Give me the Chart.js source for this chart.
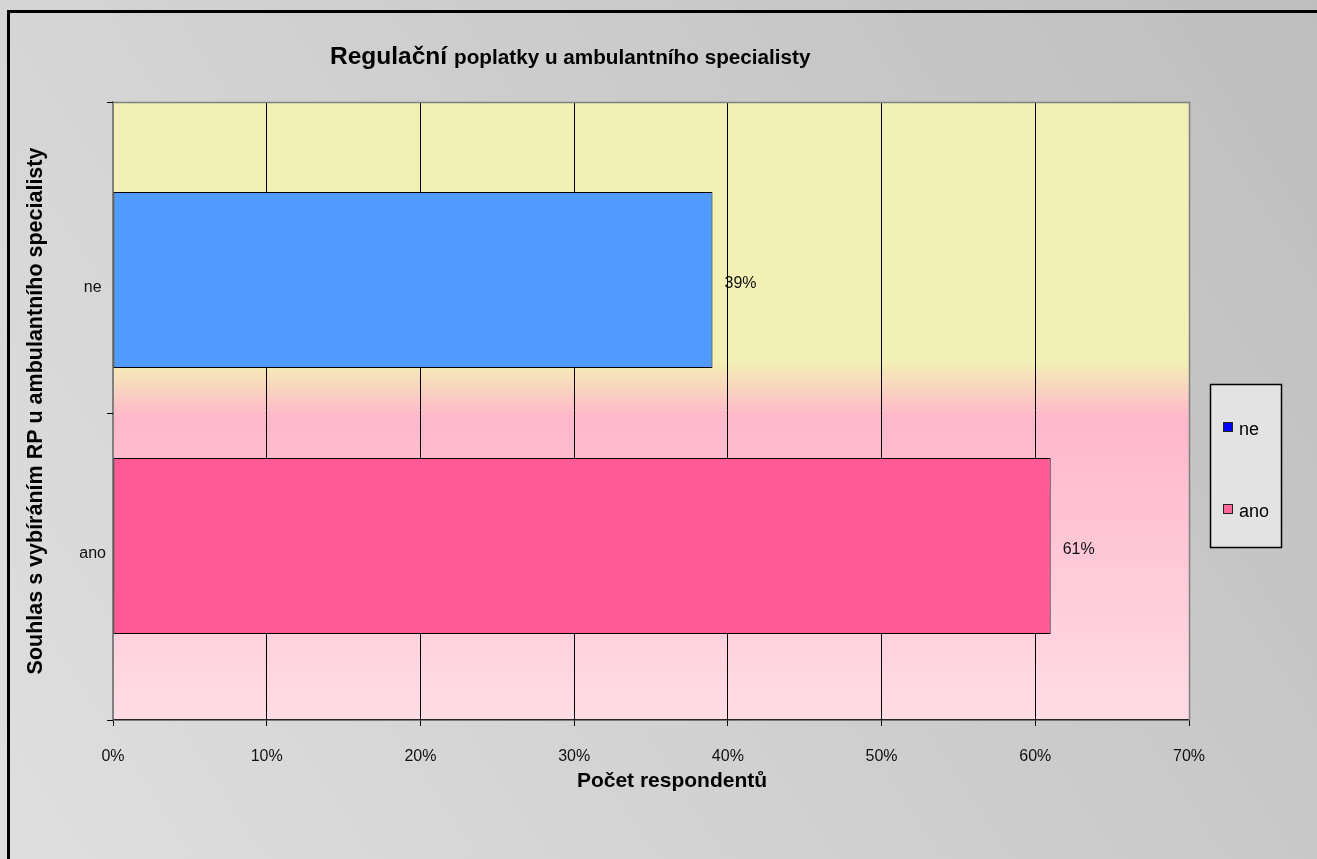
<!DOCTYPE html>
<html>
<head>
<meta charset="utf-8">
<title>Regulační poplatky u ambulantního specialisty</title>
<script src="https://cdn.jsdelivr.net/npm/chart.js@4/dist/chart.umd.min.js"></script>
<style>
  html, body { margin: 0; padding: 0; background: #d2d2d2; }
  canvas { display: block; }
</style>
</head>
<body>
<canvas id="c" width="1317" height="859"></canvas>
<script>
// Answers to the question, top to bottom on the chart
const categories = ['ne', 'ano'];
// Share of respondents, in percent
const shares = [39, 61];
// Value axis range and step, in percent
const axisMax = 70;
const axisStep = 10;

const barColors = ['#4f9bff', '#ff5a96'];
const legendColors = ['#0000ff', '#ff6699'];

const titleMain = 'Regulační';
const titleRest = 'poplatky u ambulantního specialisty';
const xTitle = 'Počet respondentů';
const yTitle = 'Souhlas s vybíráním RP u ambulantního specialisty';

const FONT = '"Liberation Sans", Arial, sans-serif';

// Category axis range (category indices), leaving room above and below the bars
const catMin = -0.669;
const catMax = categories.length - 1 + 0.654;

// Backgrounds: the grey page and the yellow-to-pink plot area
const backgroundPlugin = {
  id: 'backgrounds',
  beforeDraw(chart) {
    const { ctx, width, height, chartArea: a } = chart;
    ctx.save();
    const g = ctx.createLinearGradient(0, height, width, 0);
    g.addColorStop(0, '#dfdfdf');
    g.addColorStop(1, '#bebebe');
    ctx.fillStyle = g;
    ctx.fillRect(0, 0, width, height);

    // frame (left and top edges are visible)
    ctx.strokeStyle = '#000';
    ctx.lineWidth = 3;
    ctx.beginPath();
    ctx.moveTo(8.5, height + 5);
    ctx.lineTo(8.5, 11.5);
    ctx.lineTo(width + 5, 11.5);
    ctx.stroke();

    const p = ctx.createLinearGradient(0, a.top, 0, a.bottom);
    p.addColorStop(0, '#f2f0b4');
    p.addColorStop(0.42, '#f2f0b4');
    p.addColorStop(0.51, '#ffb7cc');
    p.addColorStop(1, '#ffdce5');
    ctx.fillStyle = p;
    ctx.fillRect(a.left, a.top, a.right - a.left, a.bottom - a.top);
    ctx.restore();
  },
  afterDraw(chart) {
    const { ctx, chartArea: a } = chart;
    const y = chart.scales.y;
    ctx.save();
    // plot area border: top and right
    ctx.strokeStyle = '#808080';
    ctx.lineWidth = 1.5;
    ctx.beginPath();
    ctx.moveTo(a.left, a.top + 0.5);
    ctx.lineTo(a.right + 0.5, a.top + 0.5);
    ctx.lineTo(a.right + 0.5, a.bottom);
    ctx.stroke();
    // category axis tick marks at the category boundaries
    ctx.strokeStyle = '#000';
    ctx.lineWidth = 1;
    const bounds = [catMin];
    for (let i = 0; i < categories.length - 1; i++) bounds.push(i + 0.5);
    bounds.push(catMax);
    bounds.forEach(v => {
      const py = Math.round(y.getPixelForValue(v)) + 0.5;
      ctx.beginPath();
      ctx.moveTo(a.left - 6, py);
      ctx.lineTo(a.left, py);
      ctx.stroke();
    });
    ctx.restore();
  }
};

// Value labels to the right of each bar
const valueLabels = {
  id: 'valueLabels',
  afterDatasetsDraw(chart) {
    const { ctx } = chart;
    const meta = chart.getDatasetMeta(0);
    ctx.save();
    ctx.fillStyle = '#111';
    ctx.font = '16px ' + FONT;
    ctx.textAlign = 'left';
    ctx.textBaseline = 'middle';
    meta.data.forEach((bar, i) => {
      ctx.fillText(shares[i] + '%', bar.x + 12, bar.y + 4);
    });
    ctx.restore();
  }
};

// Chart title with a larger first word, the x axis title, and the boxed legend
const annotations = {
  id: 'annotations',
  afterDraw(chart) {
    const { ctx } = chart;
    ctx.save();
    ctx.fillStyle = '#000';
    ctx.textBaseline = 'alphabetic';
    ctx.textAlign = 'left';
    ctx.font = 'bold 24.5px ' + FONT;
    let x = 330;
    ctx.fillText(titleMain, x, 64);
    x += ctx.measureText(titleMain).width + 7;
    ctx.font = 'bold 20.7px ' + FONT;
    ctx.fillText(titleRest, x, 64);

    ctx.font = 'bold 21px ' + FONT;
    ctx.textAlign = 'center';
    ctx.textBaseline = 'middle';
    ctx.fillText(xTitle, 672, 781);

    // legend
    const lx = 1210, ly = 384, lw = 71, lh = 163;
    ctx.fillStyle = '#e3e3e3';
    ctx.fillRect(lx, ly, lw, lh);
    ctx.strokeStyle = '#000';
    ctx.lineWidth = 1.5;
    ctx.strokeRect(lx + 0.5, ly + 0.5, lw, lh);
    ctx.font = '18px ' + FONT;
    ctx.textAlign = 'left';
    categories.forEach((c, i) => {
      const cy = 428 + i * 82;
      ctx.fillStyle = legendColors[i];
      ctx.fillRect(lx + 13, cy - 6, 10, 10);
      ctx.strokeStyle = '#222';
      ctx.lineWidth = 1;
      ctx.strokeRect(lx + 13.5, cy - 5.5, 9, 9);
      ctx.fillStyle = '#000';
      ctx.fillText(c, lx + 29, cy + 2);
    });
    ctx.restore();
  }
};

new Chart(document.getElementById('c'), {
  type: 'bar',
  data: {
    labels: categories,
    datasets: [{
      label: 'Souhlas',
      data: shares.map((v, i) => ({ x: v, y: i })),
      backgroundColor: barColors,
      borderColor: '#000',
      borderWidth: 1,
      borderSkipped: false,
      categoryPercentage: 1,
      barPercentage: 0.662
    }]
  },
  options: {
    indexAxis: 'y',
    responsive: false,
    animation: false,
    devicePixelRatio: 1,
    layout: { padding: { left: 0, top: 102, right: 128, bottom: 0 } },
    plugins: {
      legend: { display: false },
      title: { display: false },
      tooltip: { enabled: false }
    },
    scales: {
      x: {
        min: 0,
        max: axisMax,
        afterFit(scale) { scale.height = 139; },
        ticks: {
          stepSize: axisStep,
          padding: 21,
          color: '#111',
          font: { family: FONT, size: 16 },
          callback: v => v + '%'
        },
        grid: {
          color: ctx => (ctx.tick && (ctx.tick.value === 0 || ctx.tick.value === axisMax)) ? '#808080' : '#000',
          tickColor: '#000',
          lineWidth: 1,
          tickLength: 6
        },
        border: { display: true, color: '#222', width: 1.5 }
      },
      y: {
        type: 'linear',
        reverse: true,
        offset: false,
        min: catMin,
        max: catMax,
        afterFit(scale) { scale.width = 113; },
        afterBuildTicks(scale) {
          scale.ticks = categories.map((c, i) => ({ value: i }));
        },
        ticks: {
          padding: 7,
          labelOffset: 8,
          crossAlign: 'center',
          color: '#111',
          font: { family: FONT, size: 16 },
          callback: v => categories[v]
        },
        grid: {
          offset: false,
          drawOnChartArea: false,
          drawTicks: false,
          tickLength: 6
        },
        border: { display: true, color: '#808080', width: 1.5 },
        title: {
          display: true,
          text: yTitle,
          color: '#000',
          font: { family: FONT, size: 21.5, weight: 'bold' },
          padding: { top: 23, bottom: 0 }
        }
      }
    }
  },
  plugins: [backgroundPlugin, valueLabels, annotations]
});
</script>
</body>
</html>
